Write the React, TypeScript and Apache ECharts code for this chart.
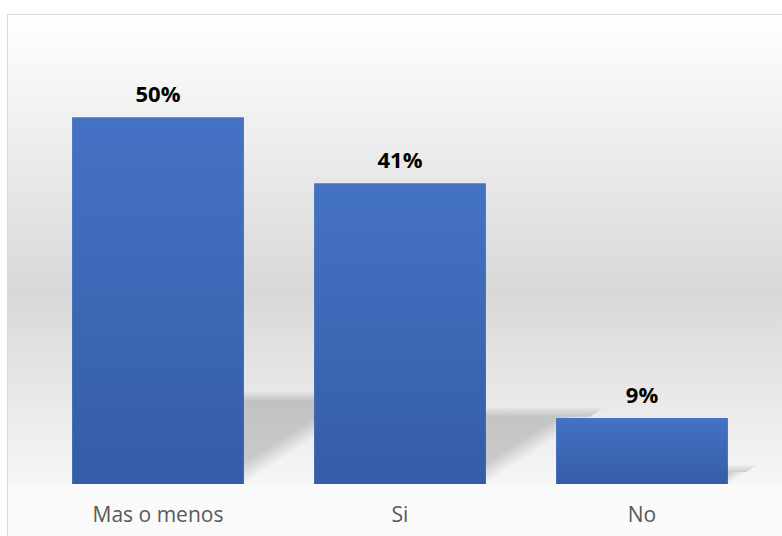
import React, { useEffect, useRef } from "react";
import * as echarts from "echarts";

const categories = ["Mas o menos", "Si", "No"];
const values = [50, 41, 9];
const valueLabels = ["50%", "41%", "9%"];

export default function App() {
  const ref = useRef<HTMLDivElement>(null);
  useEffect(() => {
    const chart = echarts.init(ref.current!, null, { renderer: "svg" });
    const W = 782;
    const H = 536;
    const SH = 0.17;
    const option: any = {
      animation: false,
      backgroundColor: "#ffffff",
      graphic: [
        {
          type: "rect",
          z: -20,
          silent: true,
          shape: { x: 7, y: 14, width: W, height: 470 },
          style: {
            fill: new echarts.graphic.LinearGradient(0, 0, 0, 1, [
              { offset: 0, color: "#FFFFFF" },
              { offset: 0.59, color: "#D8D8D8" },
              { offset: 1, color: "#F6F6F6" },
            ]),
          },
        },
        {
          type: "rect",
          z: -20,
          silent: true,
          shape: { x: 7, y: 484, width: W, height: 60 },
          style: { fill: "#FAFAFA" },
        },
        {
          type: "rect",
          z: -19,
          silent: true,
          shape: { x: 7.5, y: 14.5, width: W + 10, height: H + 10 },
          style: { fill: "none", stroke: "#D9D9D9", lineWidth: 1 },
        },
      ],
      grid: { left: 37, right: 19, top: 44, bottom: 52 },
      xAxis: {
        type: "category",
        data: categories,
        axisLine: { show: false },
        axisTick: { show: false },
        axisLabel: {
          color: "#595959",
          fontFamily: "Open Sans",
          fontSize: 21,
          margin: 19,
        },
      },
      yAxis: {
        type: "value",
        min: 0,
        max: 60,
        show: false,
        splitLine: { show: false },
      },
      series: [
        {
          type: "custom",
          z: 1,
          clip: false,
          silent: true,
          data: categories.map((c, i) => [i, values[i]]),
          encode: { x: 0, y: 1 },
          renderItem: (params: any, api: any) => {
            const idx = api.value(0);
            const val = api.value(1);
            const base = api.coord([idx, 0]);
            const top = api.coord([idx, val]);
            const bw = api.size([1, 0])[0] * 0.71;
            const h = base[1] - top[1];
            const dy = h * 0.24;
            const dx = dy * 1.55;
            const x0 = base[0] - bw / 2;
            const x1 = base[0] + bw / 2;
            const by = base[1];
            const len = Math.sqrt(dx * dx + dy * dy);
            const nx = -dy / len;
            const ny = -dx / len;
            const mx = x1 + dx / 2;
            const my = by - dy / 2;
            const fade = Math.min(18, dy * 0.6);
            const soft = Math.min(5, dy * 0.25);
            const tY = by - dy + soft;
            const tdx = ((by - tY) / dy) * dx;
            const diag = new echarts.graphic.LinearGradient(
              mx,
              my,
              mx + nx * fade,
              my + ny * fade,
              [
                { offset: 0, color: "rgba(0,0,0,0.0)" },
                { offset: 1, color: `rgba(0,0,0,${SH})` },
              ],
              true
            );
            const topBand = new echarts.graphic.LinearGradient(
              0,
              by - dy - soft,
              0,
              by - dy + soft,
              [
                { offset: 0, color: "rgba(0,0,0,0)" },
                { offset: 1, color: `rgba(0,0,0,${SH})` },
              ],
              true
            );
            return {
              type: "group",
              children: [
                {
                  type: "polygon",
                  shape: {
                    points: [
                      [x0, by],
                      [x1, by],
                      [x1 + tdx, tY],
                      [x0 + tdx, tY],
                    ],
                  },
                  style: { fill: diag },
                },
                {
                  type: "polygon",
                  shape: {
                    points: [
                      [x0 + tdx, tY],
                      [x1 + tdx, tY],
                      [x1 + dx + soft * 1.5, by - dy - soft],
                      [x0 + dx + soft * 1.5, by - dy - soft],
                    ],
                  },
                  style: { fill: topBand },
                },
              ],
            };
          },
        },
        {
          type: "bar",
          z: 2,
          data: values,
          barWidth: "71%",
          itemStyle: {
            color: new echarts.graphic.LinearGradient(0, 0, 0, 1, [
              { offset: 0, color: "#4472C4" },
              { offset: 1, color: "#345DA7" },
            ]),
          },
          label: {
            show: true,
            position: "top",
            distance: 13,
            color: "#000000",
            fontFamily: "Open Sans",
            fontWeight: "bold",
            fontSize: 22,
            formatter: (p: any) => valueLabels[p.dataIndex],
          },
        },
      ],
    };
    chart.setOption(option);
    return () => chart.dispose();
  }, []);
  return (
    <div
      ref={ref}
      style={{ position: "fixed", left: 0, top: 0, width: 782, height: 536 }}
    />
  );
}
